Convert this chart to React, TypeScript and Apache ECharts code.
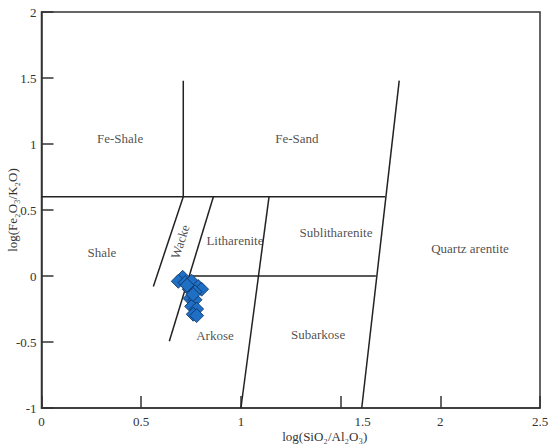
import React, { useEffect, useRef } from "react";
import * as echarts from "echarts";

const xTicks = [0, 0.5, 1, 1.5, 2, 2.5];
const yTicks = [-1, -0.5, 0, 0.5, 1, 1.5, 2];

// Boundary lines of the Herron (1988) classification, in data coordinates
const boundaries: [number, number][][] = [
  [[0, 0.6], [1.723, 0.6]],
  [[0.711, 0.6], [0.711, 1.48]],
  [[1.606, -1], [1.794, 1.48]],
  [[0.758, 0], [1.677, 0]],
  [[0.862, 0.6], [0.641, -0.495]],
  [[0.711, 0.6], [0.561, -0.079]],
  [[1.0, -1], [1.141, 0.6]],
];

const regionNames = ["Fe-Shale", "Fe-Sand", "Shale", "Litharenite", "Sublitharenite", "Quartz arentite", "Arkose", "Subarkose"];
const regionX = [0.394, 1.281, 0.303, 0.97, 1.477, 2.149, 0.87, 1.387];
const regionY = [1.04, 1.04, 0.176, 0.267, 0.328, 0.207, -0.45, -0.444];

const wackeLabel = { name: "Wacke", x: 0.695, y: 0.26 };

const sampleX = [0.708, 0.686, 0.72, 0.753, 0.786, 0.803, 0.741, 0.77, 0.745, 0.77, 0.753, 0.778, 0.761, 0.778, 0.73, 0.76];
const sampleY = [-0.01, -0.04, -0.05, -0.04, -0.08, -0.1, -0.1, -0.12, -0.17, -0.18, -0.23, -0.25, -0.29, -0.3, -0.07, -0.14];

const FONT = "Liberation Serif";

export default function App() {
  const ref = useRef<HTMLDivElement>(null);
  useEffect(() => {
    if (!ref.current) return;
    const chart = echarts.init(ref.current, null, { renderer: "svg" });
    const lineSeries = boundaries.map((seg) => ({
      type: "line",
      data: seg,
      symbol: "none",
      lineStyle: { color: "#222", width: 1.5 },
      silent: true,
      z: 2,
    }));
    chart.setOption({
      animation: false,
      backgroundColor: "#fff",
      textStyle: { fontFamily: FONT },
      grid: {
        left: 41.5,
        right: 10,
        top: 12,
        bottom: 40,
        containLabel: false,
        outerBoundsMode: "none",
        show: true,
        borderColor: "#333",
        borderWidth: 1.5,
        backgroundColor: "#fff",
      },
      xAxis: {
        type: "value",
        min: 0,
        max: 2.5,
        interval: 0.5,
        name: "log(SiO₂/Al₂O₃)",
        nameLocation: "middle",
        nameGap: 22,
        nameMoveOverlap: false,
        nameTextStyle: { fontFamily: FONT, fontSize: 13, color: "#333", padding: [0, 0, 0, 68] },
        splitLine: { show: false },
        axisLine: { onZero: false, lineStyle: { color: "#333", width: 1.5 } },
        axisTick: { inside: true, length: 12, lineStyle: { color: "#333", width: 1.5 } },
        axisLabel: {
          fontFamily: FONT,
          fontSize: 13,
          color: "#333",
          margin: 7,
          formatter: (v: number) => (Math.abs(v - 1.5) < 1e-9 ? "{s|1.5}" : String(xTicks.find((t) => Math.abs(t - v) < 1e-9) ?? v)),
          rich: { s: { fontFamily: FONT, fontSize: 13, color: "#333", padding: [0, 0, 0, 44] } },
        },
      },
      yAxis: {
        type: "value",
        min: -1,
        max: 2,
        interval: 0.5,
        name: "log(Fe₂O₃/K₂O)",
        nameLocation: "middle",
        nameGap: 23,
        nameMoveOverlap: false,
        nameTextStyle: { fontFamily: FONT, fontSize: 13, color: "#333" },
        splitLine: { show: false },
        axisLine: { onZero: false, lineStyle: { color: "#333", width: 1.5 } },
        axisTick: { inside: true, length: 12, lineStyle: { color: "#333", width: 1.5 } },
        axisLabel: {
          fontFamily: FONT,
          fontSize: 13,
          color: "#333",
          margin: 5,
          formatter: (v: number) => String(yTicks.find((t) => Math.abs(t - v) < 1e-9) ?? v),
        },
      },
      series: [
        ...lineSeries,
        {
          type: "scatter",
          data: regionNames.map((n, i) => ({ name: n, value: [regionX[i], regionY[i]] })),
          symbolSize: 0,
          silent: true,
          label: {
            show: true,
            position: "inside",
            formatter: "{b}",
            fontFamily: FONT,
            fontSize: 13,
            color: "#222",
          },
          z: 3,
        },
        {
          type: "scatter",
          data: [{ name: wackeLabel.name, value: [wackeLabel.x, wackeLabel.y] }],
          symbolSize: 0,
          silent: true,
          label: {
            show: true,
            position: "inside",
            formatter: "{b}",
            rotate: 72,
            fontFamily: FONT,
            fontSize: 13,
            color: "#222",
          },
          z: 3,
        },
        {
          type: "scatter",
          data: sampleX.map((x, i) => [x, sampleY[i]]),
          symbol: "diamond",
          symbolSize: 14,
          itemStyle: { color: "#1f6fc4", borderColor: "#0c2f5c", borderWidth: 0.8, opacity: 1 },
          z: 4,
        },
      ],
    });
    return () => chart.dispose();
  }, []);
  return <div ref={ref} style={{ position: "fixed", left: 0, top: 0, width: 550, height: 448 }} />;
}
